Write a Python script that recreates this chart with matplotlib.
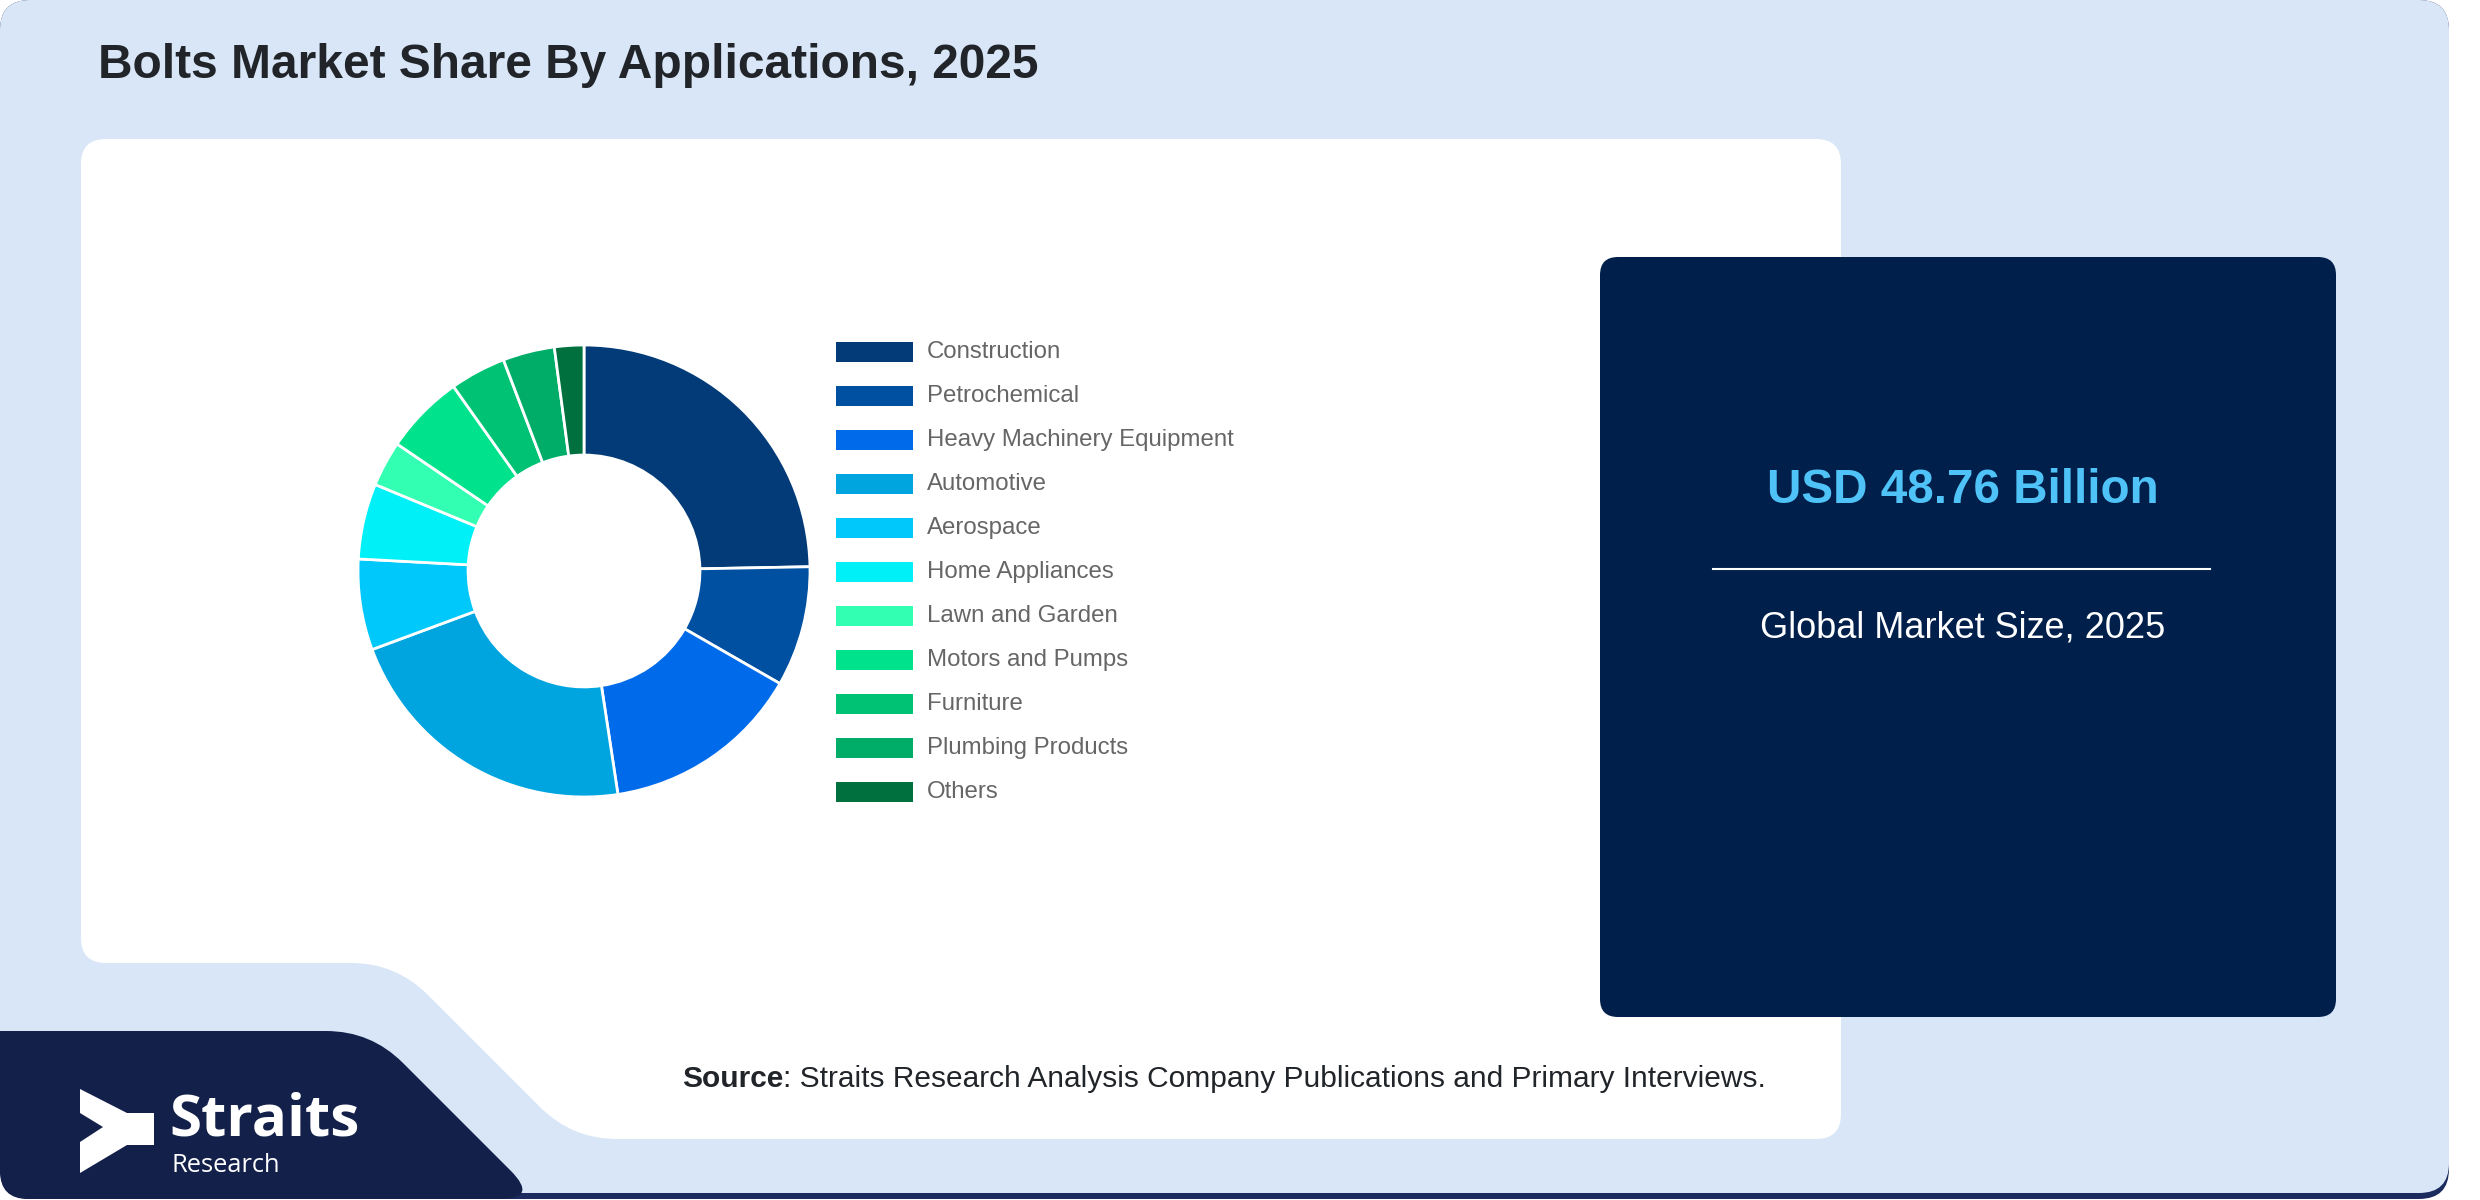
import matplotlib
matplotlib.use("Agg")
import numpy as np
import matplotlib.pyplot as plt
from matplotlib.path import Path
from matplotlib.patches import PathPatch, FancyBboxPatch, Rectangle

plt.rcParams['font.family'] = ['Liberation Sans', 'DejaVu Sans']

# data (share in %)
applications = ["Construction", "Petrochemical", "Heavy Machinery Equipment", "Automotive",
                "Aerospace", "Home Appliances", "Lawn and Garden", "Motors and Pumps",
                "Furniture", "Plumbing Products", "Others"]
shares = [24.7, 8.6, 14.3, 21.75, 6.5, 5.4, 3.25, 5.7, 4.0, 3.7, 2.1]
colors = ["#023b78", "#0050a2", "#006bea", "#00a5e0", "#00c8fa", "#00f0f8",
          "#33ffb3", "#00e38c", "#00c274", "#00ad68", "#00703f"]

title = "Bolts Market Share By Applications, 2025"
market_value = "USD 48.76 Billion"
market_label = "Global Market Size, 2025"
source_text = ": Straits Research Analysis Company Publications and Primary Interviews."

W, H = 2480, 1200
fig = plt.figure(figsize=(24.8, 12), dpi=100, facecolor="white")
bg = fig.add_axes([0, 0, 1, 1])
bg.set_xlim(0, W)
bg.set_ylim(H, 0)
bg.axis("off")


def rounded_poly(pts, radii):
    # closed polygon with quadratic rounded corners
    pts = np.asarray(pts, float)
    n = len(pts)
    verts, codes = [], []
    for i in range(n):
        p = pts[i]
        r = radii[i]
        if r <= 0:
            verts.append(p)
            codes.append(Path.MOVETO if i == 0 else Path.LINETO)
            continue
        prv, nxt = pts[i - 1], pts[(i + 1) % n]
        a = p + (prv - p) / np.linalg.norm(prv - p) * r
        b = p + (nxt - p) / np.linalg.norm(nxt - p) * r
        verts.append(a)
        codes.append(Path.MOVETO if i == 0 else Path.LINETO)
        verts += [p, b]
        codes += [Path.CURVE3, Path.CURVE3]
    verts.append(verts[0])
    codes.append(Path.CLOSEPOLY)
    return Path(verts, codes)


# outer card with a dark shadow line at the bottom
bg.add_patch(FancyBboxPatch((0, 0), 2449, 1199, boxstyle="round,pad=0,rounding_size=30",
                            fc="#1b2b5e", ec="none"))
bg.add_patch(FancyBboxPatch((0, 0), 2449, 1193, boxstyle="round,pad=0,rounding_size=30",
                            fc="#d9e6f8", ec="none"))

# navy logo block, bottom left
logo_block = rounded_poly([(0, 1031), (371, 1031), (539, 1199), (0, 1199)], [0, 45, 40, 28])
bg.add_patch(PathPatch(logo_block, fc="#13204a", ec="none"))

# white chart panel with notch
panel = rounded_poly([(81, 139), (1841, 139), (1841, 1139), (572, 1139), (396, 963), (81, 963)],
                     [25, 25, 25, 45, 45, 25])
bg.add_patch(PathPatch(panel, fc="white", ec="none"))

# navy info panel
bg.add_patch(FancyBboxPatch((1600, 257), 736, 760, boxstyle="round,pad=0,rounding_size=18",
                            fc="#011f4b", ec="none"))

bg.text(98, 78, title, fontsize=34.5, fontweight="bold", color="#212529", va="baseline")

cx = 1963
bg.text(cx, 503, market_value, fontsize=34.3, fontweight="bold", color="#4fc3f7",
        ha="center", va="baseline")
bg.plot([1713, 2210], [569, 569], color="white", lw=1.5)
bg.text(cx, 637, market_label, fontsize=26, color="white", ha="center", va="baseline")

# legend
for i, (lab, col) in enumerate(zip(applications, colors)):
    y = 352 + i * 44
    bg.add_patch(Rectangle((836, y - 10), 77, 20, fc=col, ec="none"))
    bg.text(927, y, lab, fontsize=17.3, color="#666666", va="center")

# source line
t1 = bg.text(682, 1087, "Source", fontsize=21.5, fontweight="bold", color="#212529",
             va="baseline")
bg.annotate(source_text, xy=(1, 0), xycoords=t1, fontsize=21.5, color="#212529",
            va="bottom", ha="left")

# logo
arrow = [(80, 1089), (127, 1113), (154, 1113), (154, 1145), (127, 1145), (80, 1173),
         (80, 1142), (103, 1127), (80, 1113)]
bg.add_patch(PathPatch(rounded_poly(arrow, [0] * len(arrow)), fc="white", ec="none"))
bg.text(169, 1135, "Straits", fontsize=42, fontweight="bold", color="white",
        family=["Open Sans", "DejaVu Sans"], va="baseline")
bg.text(171, 1172, "Research", fontsize=18.4, color="white",
        family=["Open Sans", "DejaVu Sans"], va="baseline")

# donut
pcx, pcy, R = 584, 571, 226
pax = fig.add_axes([(pcx - R) / W, (H - pcy - R) / H, 2 * R / W, 2 * R / H])
pax.pie(shares, colors=colors, startangle=90, counterclock=False,
        wedgeprops=dict(width=0.487, edgecolor="white", linewidth=2))
pax.set_xlim(-1, 1)
pax.set_ylim(-1, 1)
pax.set_aspect("equal")
pax.axis("off")

fig.savefig("out.png", dpi=100, facecolor="white")
